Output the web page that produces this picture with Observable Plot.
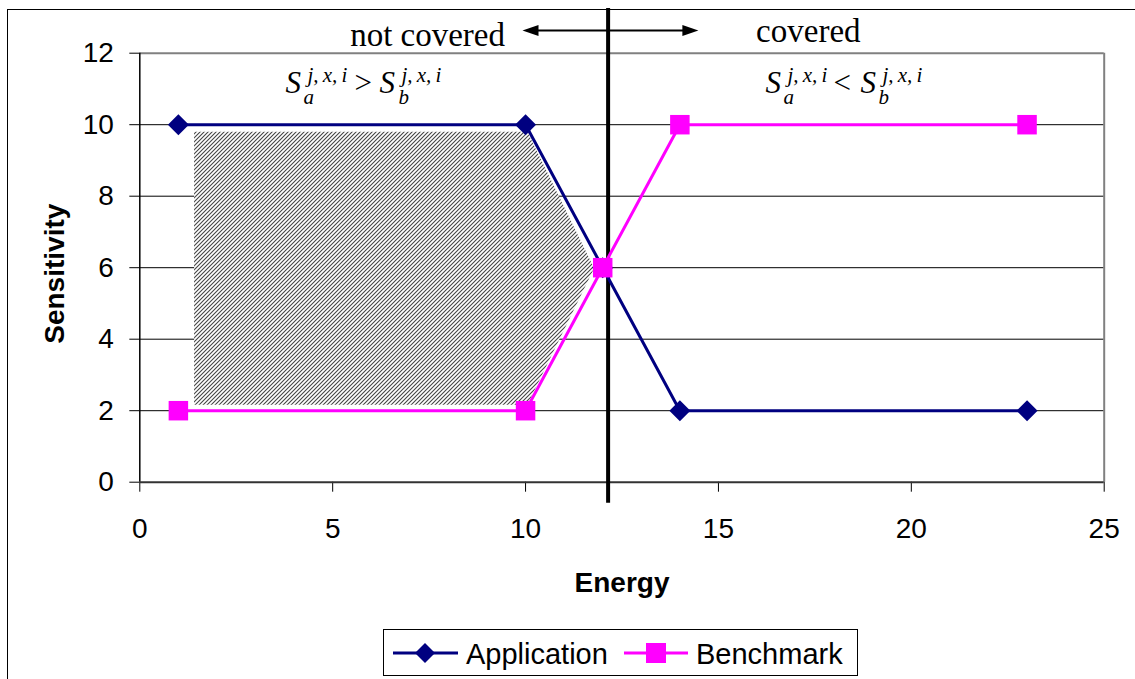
<!DOCTYPE html>
<html><head><meta charset="utf-8">
<script src="https://cdn.jsdelivr.net/npm/d3@7"></script>
<script src="https://cdn.jsdelivr.net/npm/@observablehq/plot@0.6"></script>
<style>
html,body{margin:0;padding:0;background:#fff;}
#wrap{position:relative;width:1135px;height:679px;overflow:hidden;background:#fff;}
#chart{position:absolute;left:0;top:0;}
#frame{position:absolute;left:7px;top:9px;width:1200px;height:720px;border:1.5px solid #000;box-sizing:border-box;pointer-events:none;}
#legend{position:absolute;left:383px;top:629px;width:475px;height:47px;border:1px solid #000;box-sizing:border-box;background:#fff;}
</style></head><body>
<div id="wrap"><div id="chart"></div><div id="legend"></div><div id="frame"></div></div>
<script>
// ---- data ----
const energy = [1, 10, 12, 14, 23];
const application = [10, 10, 6, 2, 2];
const benchmark = [2, 2, 6, 10, 10];
const seriesNames = ["Application", "Benchmark"];
const seriesColors = ["#000080", "#FF00FF"];
const xTicks = [0, 5, 10, 15, 20, 25];
const yTicks = [0, 2, 4, 6, 8, 10, 12];
const gridValues = [2, 4, 6, 8, 10];
const boundary = [12.14];
const hatchEnergy = [1.42, 10.06, 11.79];
const hatchUpper = [9.79, 9.79, 5.97];
const hatchLower = [2.15, 2.15, 5.97];
const regionLabels = ["not covered", "covered"];
const regionLabelX = [7.46, 17.33];
const regionLabelY = [12.215, 12.30];
const arrowSpan = [9.92, 14.48];
const arrowLevel = 12.635;
const formulaAnchorX = [3.777, 16.22];
const formulaAnchorY = 10.88;
const formulaOps = [">", "<"];

const appData = energy.map((e, i) => ({x: e, y: application[i]}));
const benchData = energy.map((e, i) => ({x: e, y: benchmark[i]}));
const hatchData = hatchEnergy.map((e, i) => ({x: e, y1: hatchLower[i], y2: hatchUpper[i]}));

const SANS = "Liberation Sans, Arial, Helvetica, sans-serif";
const SERIF = "Liberation Serif, Times New Roman, serif";

const diamond = {draw(ctx) { const r = 10.5; ctx.moveTo(0, -r); ctx.lineTo(r, 0); ctx.lineTo(0, r); ctx.lineTo(-r, 0); ctx.closePath(); }};
const square = {draw(ctx) { const h = 9.75; ctx.rect(-h, -h, 2 * h, 2 * h); }};
const arrowHead = {draw(ctx) { ctx.moveTo(0, 0); ctx.lineTo(-16, -5.5); ctx.lineTo(-16, 5.5); ctx.closePath(); }};

const SUP = "j,\u2009x,\u2009i";
// formula pieces: [text, dx, dy, size, italic]
function formulaMarks(ax, op, dxs) {
  const pieces = [
    ["S", 0, 0, 31, true],
    [SUP, dxs[0], -11, 21, true],
    ["a", dxs[1], 11, 21, true],
    [op, dxs[2], 0, 31, false],
    ["S", dxs[3], 0, 31, true],
    [SUP, dxs[4], -11, 21, true],
    ["b", dxs[5], 11, 21, true]
  ];
  return pieces.map(([t, dx, dy, size, it]) => Plot.text([t], {
    x: ax, y: formulaAnchorY, text: d => d, dx, dy,
    textAnchor: "start", lineAnchor: "bottom",
    fontSize: size, fontFamily: SERIF, fontStyle: it ? "italic" : "normal", fill: "#000"
  }));
}

const plot = Plot.plot({
  width: 1135,
  height: 612,
  marginLeft: 139.3,
  marginRight: 31.3,
  marginTop: 52.7,
  marginBottom: 130.3,
  style: {background: "transparent", overflow: "visible"},
  x: {domain: [0, 25], label: null},
  y: {domain: [0, 12], label: null},
  marks: [
    Plot.ruleY(gridValues, {stroke: "#000", strokeWidth: 1}),
    Plot.ruleY([12], {stroke: "#808080", strokeWidth: 2}),
    Plot.ruleX([25], {y1: 0, y2: 12, stroke: "#808080", strokeWidth: 2}),
    Plot.areaY(hatchData, {x: "x", y1: "y1", y2: "y2", fill: "#888", curve: "linear"}),
    Plot.axisY(yTicks, {tickSize: 10, tickPadding: 16, fontSize: 28, fontFamily: SANS, tickFormat: d => String(d), label: null, stroke: "#000", fill: "#000"}),
    Plot.axisX(xTicks, {tickSize: 10, tickPadding: 26, fontSize: 28, fontFamily: SANS, tickFormat: d => String(d), label: null, stroke: "#000", fill: "#000"}),
    Plot.ruleX([0], {y1: 0, y2: 12, stroke: "#000", strokeWidth: 1.5}),
    Plot.ruleY([0], {x1: 0, x2: 25, stroke: "#333", strokeWidth: 2}),
    Plot.ruleX(boundary, {y1: -0.587, y2: 13.25, stroke: "#000", strokeWidth: 4}),
    Plot.link([0], {x1: arrowSpan[0] + 0.3, x2: arrowSpan[1] - 0.3, y1: arrowLevel, y2: arrowLevel, stroke: "#000", strokeWidth: 2}),
    Plot.dot([0], {x: arrowSpan[1], y: arrowLevel, symbol: arrowHead, fill: "#000", stroke: "none", rotate: 0}),
    Plot.dot([0], {x: arrowSpan[0], y: arrowLevel, symbol: arrowHead, fill: "#000", stroke: "none", rotate: 180}),
    Plot.text(regionLabels, {x: (d, i) => regionLabelX[i], y: (d, i) => regionLabelY[i], text: d => d, lineAnchor: "bottom", fontSize: 33, fontFamily: SERIF, fill: "#000"}),
    ...formulaMarks(formulaAnchorX[0], formulaOps[0], [22, 18, 69, 94, 116, 113]),
    ...formulaMarks(formulaAnchorX[1], formulaOps[1], [22, 18, 68, 95, 117, 113]),
    Plot.line(appData, {x: "x", y: "y", stroke: seriesColors[0], strokeWidth: 3}),
    Plot.dot(appData, {x: "x", y: "y", symbol: diamond, fill: seriesColors[0], stroke: "none"}),
    Plot.line(benchData, {x: "x", y: "y", stroke: seriesColors[1], strokeWidth: 3}),
    Plot.dot(benchData, {x: "x", y: "y", symbol: square, fill: seriesColors[1], stroke: "none"}),
    Plot.text(["Sensitivity"], {frameAnchor: "left", rotate: -90, dx: -76, dy: 6, lineAnchor: "bottom", textAnchor: "middle", fontSize: 28, fontWeight: "bold", fontFamily: SANS, fill: "#000"}),
    Plot.text(["Energy"], {frameAnchor: "bottom", dy: 110, lineAnchor: "bottom", textAnchor: "middle", fontSize: 28, fontWeight: "bold", fontFamily: SANS, fill: "#000"})
  ]
});

// hatch pattern for the shaded region
const svg = d3.select(plot);
const defs = svg.insert("defs", ":first-child");
const pat = defs.append("pattern").attr("id", "hatch").attr("patternUnits", "userSpaceOnUse").attr("width", 4).attr("height", 4);
pat.append("rect").attr("width", 4).attr("height", 4).attr("fill", "#fff");
pat.append("path").attr("d", "M-1,1 L1,-1 M0,4 L4,0 M3,5 L5,3").attr("stroke", "#444").attr("stroke-width", 1.1);
svg.selectAll("g[aria-label='area'] path").attr("fill", "url(#hatch)");

document.getElementById("chart").appendChild(plot);

// legend below the plot
const lg = d3.select("#legend").append("svg").attr("width", 473).attr("height", 45);
const entries = [
  {name: seriesNames[0], color: seriesColors[0], x0: 9, x1: 74, mx: 41, mark: "diamond", tx: 82},
  {name: seriesNames[1], color: seriesColors[1], x0: 240, x1: 304, mx: 272, mark: "square", tx: 312}
];
entries.forEach(e => {
  lg.append("line").attr("x1", e.x0).attr("x2", e.x1).attr("y1", 23).attr("y2", 23).attr("stroke", e.color).attr("stroke-width", 3);
  if (e.mark === "diamond") {
    lg.append("path").attr("d", `M${e.mx},${23 - 10} L${e.mx + 10},23 L${e.mx},${23 + 10} L${e.mx - 10},23 Z`).attr("fill", e.color);
  } else {
    lg.append("rect").attr("x", e.mx - 10).attr("y", 13).attr("width", 20).attr("height", 20).attr("fill", e.color);
  }
  lg.append("text").attr("x", e.tx).attr("y", 34).attr("font-family", SANS).attr("font-size", 29).attr("fill", "#000").text(e.name);
});
</script>
</body></html>
